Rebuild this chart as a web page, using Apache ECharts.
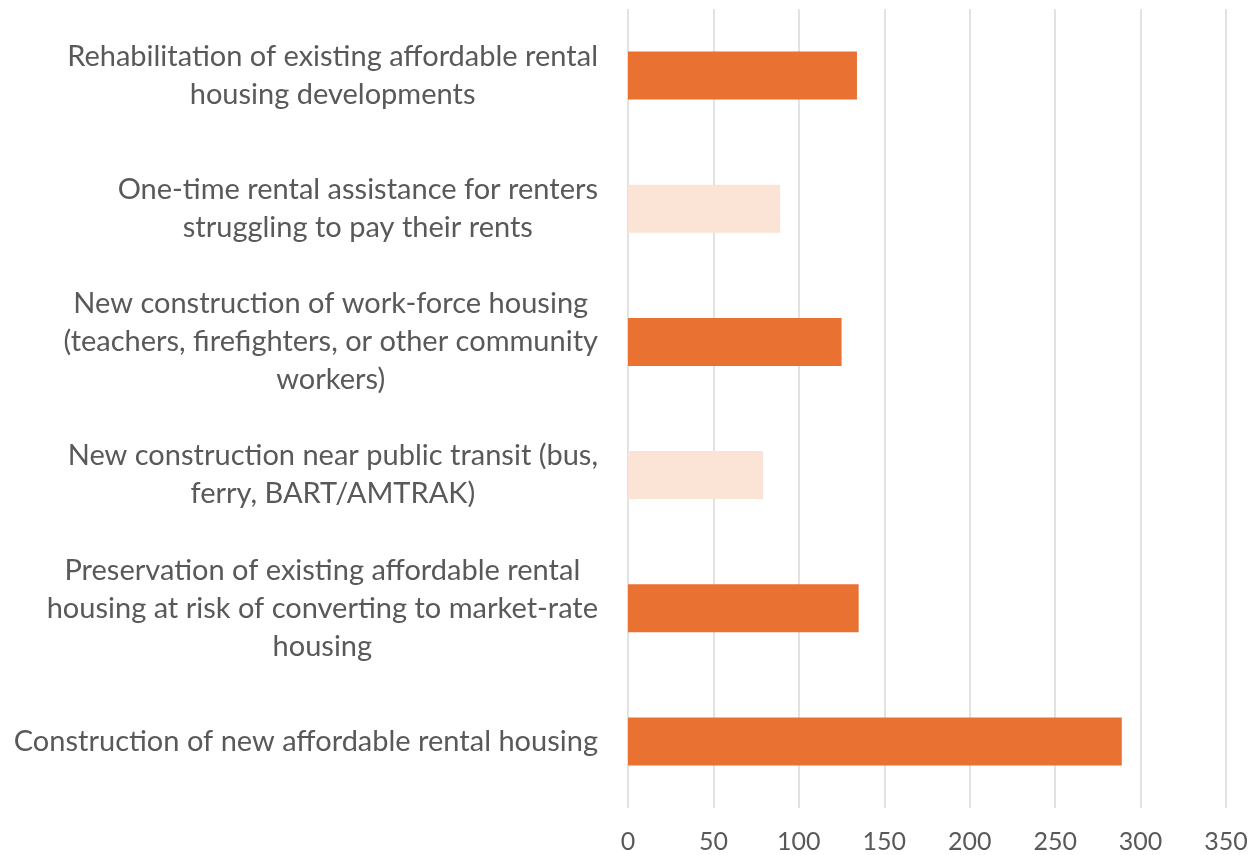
<!DOCTYPE html>
<html>
<head>
<meta charset="utf-8">
<script src="https://cdn.jsdelivr.net/npm/echarts@6/dist/echarts.min.js"></script>
<style>
html, body { margin: 0; padding: 0; background: #fff; }
#chart { width: 1260px; height: 855px; }
</style>
</head>
<body>
<div id="chart"></div>
<script>
// categories, top to bottom
const categories = [
    'Rehabilitation of existing affordable rental\nhousing developments',
    'One-time rental assistance for renters\nstruggling to pay their rents',
    'New construction of work-force housing\n(teachers, firefighters, or other community\nworkers)',
    'New construction near public transit (bus,\nferry, BART/AMTRAK)',
    'Preservation of existing affordable rental\nhousing at risk of converting to market-rate\nhousing',
    'Construction of new affordable rental housing'
];
const values = [134, 89, 125, 79, 135, 289];
const highlighted = [true, false, true, false, true, true];
const xTicks = [0, 50, 100, 150, 200, 250, 300, 350];

const dark = '#E97132';
const light = '#FBE3D6';
const fontFam = 'Lato, "Open Sans", sans-serif';

const chart = echarts.init(document.getElementById('chart'));
const option = {
    animation: false,
    grid: { left: 628, right: 34, top: 9, bottom: 47, outerBoundsMode: 'none' },
    xAxis: {
        type: 'value',
        min: xTicks[0],
        max: xTicks[xTicks.length - 1],
        interval: 50,
        axisLine: { show: false },
        axisTick: { show: false },
        splitLine: { lineStyle: { color: '#d9d9d9', width: 1.5 } },
        axisLabel: { color: '#595959', fontSize: 25, fontFamily: fontFam, margin: 21 }
    },
    yAxis: {
        type: 'category',
        inverse: true,
        data: categories,
        axisLine: { show: false },
        axisTick: { show: false },
        axisLabel: {
            color: '#595959',
            fontSize: 29,
            lineHeight: 38,
            fontFamily: fontFam,
            align: 'right',
            margin: 30,
            formatter: (v) => v.split('\n').map(l => '{c|' + l + '}').join('\n'),
            rich: {
                c: { align: 'center', color: '#595959', fontSize: 29, lineHeight: 38, fontFamily: fontFam }
            }
        }
    },
    series: [{
        type: 'bar',
        barCategoryGap: '64%',
        data: values.map((v, i) => ({ value: v, itemStyle: { color: highlighted[i] ? dark : light } }))
    }]
};
chart.setOption(option);
</script>
</body>
</html>
